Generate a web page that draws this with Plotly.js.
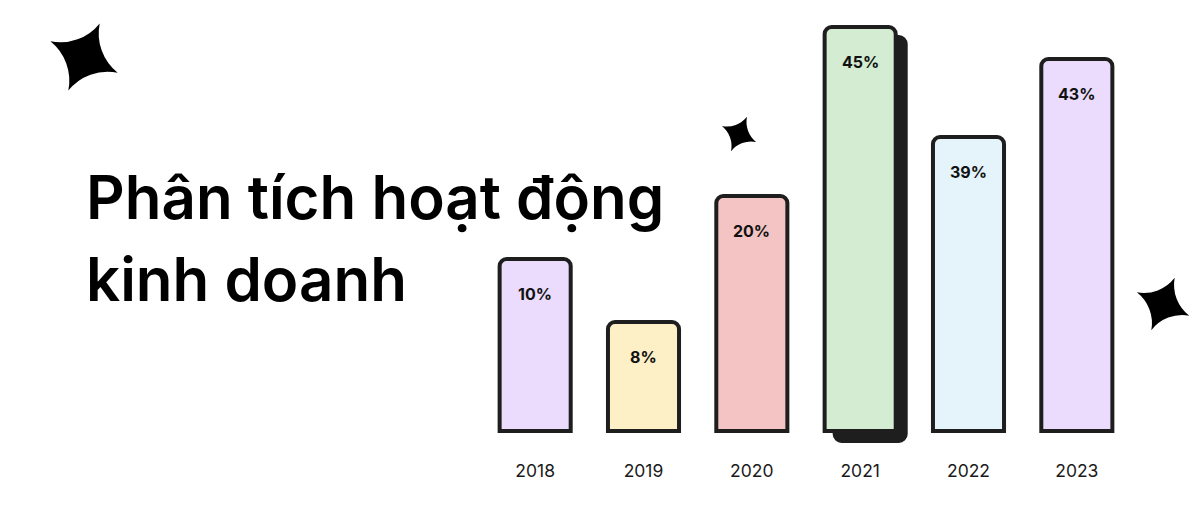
<!DOCTYPE html>
<html>
<head>
<meta charset="utf-8">
<script src="https://cdn.plot.ly/plotly-3.0.1.min.js"></script>
<style>
  html, body { margin: 0; padding: 0; background: #ffffff; }
  #chart { width: 1200px; height: 508px; }
</style>
</head>
<body>
<div id="chart"></div>
<script>
// ---- data ----
const categories = ['2018', '2019', '2020', '2021', '2022', '2023'];
const percentLabels = ['10%', '8%', '20%', '45%', '39%', '43%'];
// visual bar heights as drawn in the picture (not proportional to labels)
const barHeights = [172, 109, 235, 404, 294, 372];
const barColors = ['#ebdcfd', '#fdefc6', '#f3c4c3', '#d3ecd2', '#e5f4fa', '#ebdcfd'];
const shadowIndex = 3;
const titleLines = ['Phân tích hoạt động', 'kinh doanh'];

// decorative stars (page pixel positions)
const starX = [84, 739, 1163];
const starY = [57, 134, 304];
const starSize = [53, 27, 41];
const starAngle = [25, 25, 24];

// ---- layout constants ----
const W = 1200, H = 508;
const plotLeft = 481, plotRight = 1131, plotTop = 20, plotBottom = 443;
const barWidth = 0.656;
const shadowShiftPx = 10;
const catPx = (plotRight - plotLeft) / categories.length;
const shadowShift = shadowShiftPx / catPx;

const shadowTrace = {
  type: 'bar',
  x: [categories[shadowIndex]],
  y: [barHeights[shadowIndex]],
  base: [-shadowShiftPx],
  width: barWidth,
  offset: -barWidth / 2 + shadowShift,
  marker: { color: '#1e1e1e', line: { color: '#1e1e1e', width: 4 }, cornerradius: 7 },
  hoverinfo: 'skip',
  xaxis: 'x', yaxis: 'y'
};

const barTrace = {
  type: 'bar',
  x: categories,
  y: barHeights,
  width: barWidth,
  marker: { color: barColors, line: { color: '#1e1e1e', width: 4 }, cornerradius: 7 },
  hoverinfo: 'skip',
  xaxis: 'x', yaxis: 'y'
};

const starTrace = {
  type: 'scatter',
  mode: 'markers',
  x: starX,
  y: starY,
  marker: {
    symbol: 'star-diamond',
    size: starSize,
    angle: starAngle,
    color: '#000000',
    opacity: 1,
    line: { width: 0 }
  },
  opacity: 1,
  cliponaxis: false,
  hoverinfo: 'skip',
  xaxis: 'x2', yaxis: 'y2'
};

const annotations = [];
categories.forEach((c, i) => {
  annotations.push({
    x: i, y: barHeights[i], xref: 'x', yref: 'y',
    text: '<b>' + percentLabels[i] + '</b>',
    showarrow: false, yanchor: 'middle', yshift: -35,
    font: { family: 'Inter, Roboto, sans-serif', size: 16, color: '#111111', weight: 700 }
  });
});
const titleBaselines = [218, 300];
titleLines.forEach((t, i) => {
  annotations.push({
    x: 84, y: titleBaselines[i] - 21, xref: 'x2', yref: 'y2',
    text: t, showarrow: false, xanchor: 'left', yanchor: 'middle',
    font: { family: 'Inter, "Noto Sans", sans-serif', size: 60, color: '#000000', weight: 600 }
  });
});

const layout = {
  width: W, height: H,
  margin: { l: 0, r: 0, t: 0, b: 0, pad: 0 },
  paper_bgcolor: '#ffffff', plot_bgcolor: 'rgba(0,0,0,0)',
  showlegend: false,
  barmode: 'overlay',
  hovermode: false,
  xaxis: {
    domain: [plotLeft / W, plotRight / W],
    type: 'category',
    categoryorder: 'array', categoryarray: categories,
    range: [-0.5, categories.length - 0.5],
    showgrid: false, zeroline: false, showline: false,
    ticks: '', ticklabelstandoff: 15,
    tickfont: { family: 'Inter, Roboto, sans-serif', size: 17.5, color: '#1a1a1a' },
    fixedrange: true, automargin: false
  },
  yaxis: {
    domain: [(H - plotBottom) / H, (H - plotTop) / H],
    range: [-(plotBottom - 431), 431 - plotTop],
    showgrid: false, zeroline: false, showline: false, showticklabels: false,
    fixedrange: true, automargin: false
  },
  xaxis2: {
    domain: [0, 1], range: [0, W], anchor: 'y2',
    visible: false, fixedrange: true
  },
  yaxis2: {
    domain: [0, 1], range: [H, 0], anchor: 'x2',
    visible: false, fixedrange: true
  },
  annotations: annotations
};

Plotly.newPlot('chart', [shadowTrace, barTrace, starTrace], layout, { displayModeBar: false, staticPlot: true });
</script>
</body>
</html>
